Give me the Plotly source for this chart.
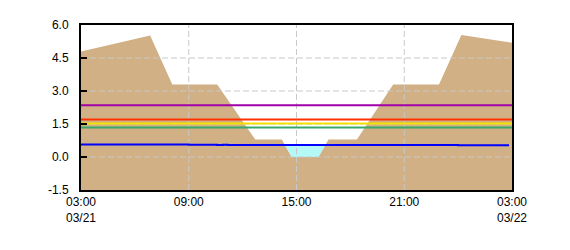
import numpy as np
import pandas as pd
import plotly.graph_objects as go

# ---- data ----
start_time = "2024-03-21 03:00"
end_time = "2024-03-22 03:00"

# ground profile drawn as background (time, elevation)
terrain_times = ["2024-03-21 03:00", "2024-03-21 06:51", "2024-03-21 08:05", "2024-03-21 10:35",
                 "2024-03-21 12:42", "2024-03-21 14:11", "2024-03-21 14:44", "2024-03-21 16:13",
                 "2024-03-21 16:47", "2024-03-21 18:22", "2024-03-21 20:23", "2024-03-21 22:56",
                 "2024-03-22 00:11", "2024-03-22 03:00"]
terrain_vals = [4.8, 5.52, 3.3, 3.3, 0.79, 0.79, 0.0, 0.0, 0.79, 0.79, 3.3, 3.3, 5.54, 5.19]

# water level series
level_times = ["2024-03-21 03:00", "2024-03-21 06:00", "2024-03-21 09:00", "2024-03-21 10:30",
               "2024-03-21 10:35", "2024-03-21 10:50", "2024-03-21 10:55", "2024-03-21 11:10",
               "2024-03-21 12:00", "2024-03-21 15:00", "2024-03-21 18:00", "2024-03-21 21:00",
               "2024-03-22 00:00", "2024-03-22 02:50"]
level_vals = [0.57, 0.57, 0.56, 0.56, 0.545, 0.545, 0.56, 0.545, 0.55, 0.55, 0.54, 0.54, 0.53, 0.53]

# warning thresholds
threshold_names = ["level4", "level3", "level2", "level1"]
threshold_vals = [2.35, 1.71, 1.52, 1.34]
threshold_colors = ["#a000a8", "#ff3000", "#f5e000", "#3aa86a"]

y_ticks = [-1.5, 0.0, 1.5, 3.0, 4.5, 6.0]
x_tickvals = ["2024-03-21 03:00", "2024-03-21 09:00", "2024-03-21 15:00", "2024-03-21 21:00", "2024-03-22 03:00"]
x_ticktext = ["03:00<br>03/21", "09:00", "15:00", "21:00", "03:00<br>03/22"]

# ---- build ----
t0 = pd.Timestamp(start_time)
t_end = pd.Timestamp(end_time)
ymin, ymax = y_ticks[0], y_ticks[-1]

tt = pd.to_datetime(terrain_times)
th = np.array([(t - t0).total_seconds() / 3600 for t in tt])
tv = np.array(terrain_vals)

lt = pd.to_datetime(level_times)
lh = np.array([(t - t0).total_seconds() / 3600 for t in lt])
lv = np.array(level_vals)

def to_time(h):
    return t0 + pd.Timedelta(hours=float(h))

# water polygon where terrain lies below the water level
wl = float(np.interp(th[tv < 0.5].mean(), lh, lv))
wx, wy = [], []
for i in range(len(th) - 1):
    a, b = tv[i], tv[i + 1]
    if (a - wl) * (b - wl) < 0:
        h = th[i] + (wl - a) / (b - a) * (th[i + 1] - th[i])
        wx.append(h); wy.append(wl)
    if b < wl:
        wx.append(th[i + 1]); wy.append(b)
poly_x = wx + [wx[-1], wx[0]]
poly_y = wy + [wl, wl]

fig = go.Figure()

# terrain
fig.add_trace(go.Scatter(
    x=list(tt) + [t_end, t0], y=list(tv) + [ymin, ymin],
    fill="toself", fillcolor="#d0b084", mode="none", hoverinfo="skip"))

# water body
fig.add_trace(go.Scatter(
    x=[to_time(h) for h in poly_x], y=poly_y,
    fill="toself", fillcolor="#b4f8f8", mode="none", hoverinfo="skip"))

# grid lines (drawn above fills)
grid_style = dict(color="#c8c8c8", width=1, dash="6px,3px")
for v in y_ticks[1:-1]:
    fig.add_trace(go.Scatter(x=[t0, t_end], y=[v, v], mode="lines",
                             line=grid_style, hoverinfo="skip"))
for xv in x_tickvals[1:-1]:
    fig.add_trace(go.Scatter(x=[xv, xv], y=[ymin, ymax], mode="lines",
                             line=grid_style, hoverinfo="skip"))

# thresholds
for name, v, c in zip(threshold_names, threshold_vals, threshold_colors):
    fig.add_trace(go.Scatter(x=[t0, t_end], y=[v, v], mode="lines", name=name,
                             line=dict(color=c, width=2)))

# water level
fig.add_trace(go.Scatter(x=lt, y=lv, mode="lines", name="level",
                         line=dict(color="#0000ff", width=2, shape="hv")))

font = dict(family="Liberation Sans, Arial, sans-serif", size=12, color="#000000")
fig.update_layout(
    width=570, height=250,
    margin=dict(l=81, r=58, t=25, b=60),
    paper_bgcolor="white", plot_bgcolor="white",
    showlegend=False, hovermode=False, font=font,
    xaxis=dict(range=[t0, t_end], showgrid=False, zeroline=False,
               showline=True, linewidth=2, linecolor="black", mirror=True,
               ticks="", tickmode="array", tickvals=x_tickvals, ticktext=x_ticktext,
               tickfont=font),
    yaxis=dict(range=[ymin, ymax], showgrid=False, zeroline=False,
               showline=True, linewidth=2, linecolor="black", mirror=True,
               ticks="inside", ticklen=6, tickwidth=2, tickcolor="black",
               tickmode="array", tickvals=y_ticks, ticktext=[f"{v:.1f}" for v in y_ticks],
               ticklabelstandoff=8, tickfont=font),
)

fig.write_html("out.html")
